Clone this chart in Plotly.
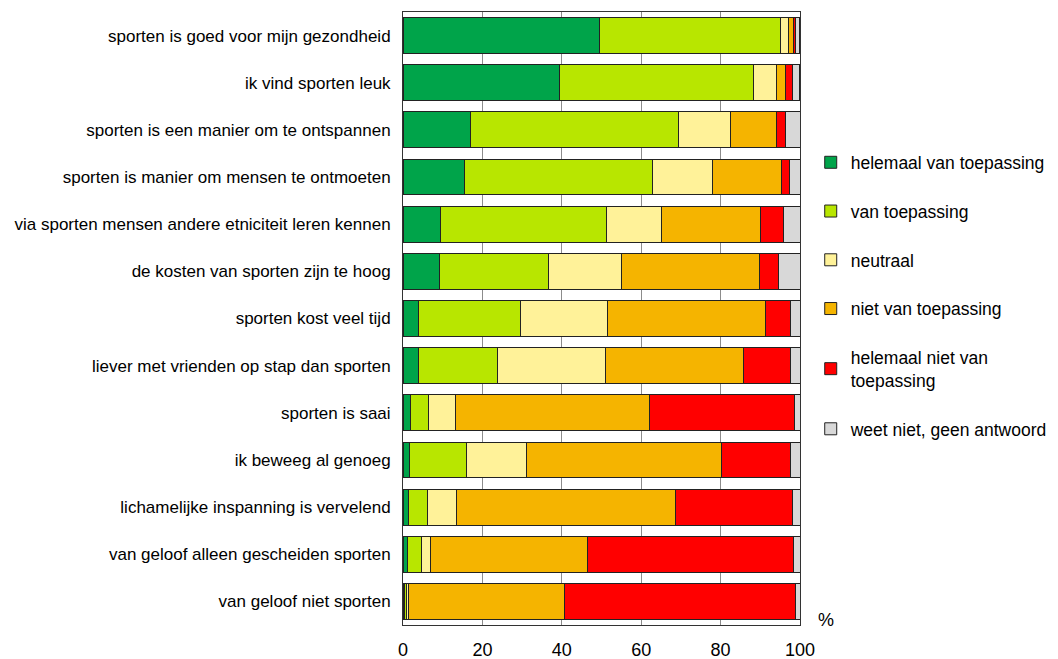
import plotly.graph_objects as go

categories = [
    "sporten is goed voor mijn gezondheid",
    "ik vind sporten leuk",
    "sporten is een manier om te ontspannen",
    "sporten is manier om mensen te ontmoeten",
    "via sporten mensen andere etniciteit leren kennen",
    "de kosten van sporten zijn te hoog",
    "sporten kost veel tijd",
    "liever met vrienden op stap dan sporten",
    "sporten is saai",
    "ik beweeg al genoeg",
    "lichamelijke inspanning is vervelend",
    "van geloof alleen gescheiden sporten",
    "van geloof niet sporten",
]

helemaal_van_toepassing = [49.4, 39.3, 17.1, 15.4, 9.4, 9.2, 3.8, 3.8, 1.9, 1.7, 1.3, 1.1, 0.4]
van_toepassing = [45.6, 48.9, 52.2, 47.4, 41.8, 27.5, 25.8, 20.1, 4.5, 14.3, 4.8, 3.5, 0.4]
neutraal = [2.0, 5.8, 13.3, 15.1, 13.9, 18.3, 21.9, 27.0, 6.9, 15.0, 7.4, 2.4, 0.7]
niet_van_toepassing = [1.3, 2.4, 11.5, 17.4, 24.9, 34.7, 39.9, 34.9, 48.7, 49.2, 55.1, 39.4, 39.3]
helemaal_niet_van_toepassing = [0.6, 1.8, 2.2, 2.1, 5.9, 4.8, 6.2, 11.8, 36.6, 17.4, 29.5, 51.9, 58.0]
weet_niet = [1.0, 1.7, 3.8, 2.7, 4.1, 5.5, 2.4, 2.4, 1.4, 2.4, 1.9, 1.7, 1.2]

x_ticks = [0, 20, 40, 60, 80, 100]

series = [
    ("helemaal van toepassing", helemaal_van_toepassing, "#00A44A"),
    ("van toepassing", van_toepassing, "#B8E600"),
    ("neutraal", neutraal, "#FFF299"),
    ("niet van toepassing", niet_van_toepassing, "#F5B400"),
    ("helemaal niet van<br>toepassing", helemaal_niet_van_toepassing, "#FF0000"),
    ("weet niet, geen antwoord", weet_niet, "#D8D8D8"),
]

fig = go.Figure()
for i, (name, vals, col) in enumerate(series):
    fig.add_trace(go.Bar(
        y=categories, x=vals, name=name, orientation="h",
        marker=dict(color=col, line=dict(color="#222222", width=1)),
        legendgroup=str(i),
    ))

FONT = "Liberation Sans, Arial, sans-serif"
fig.update_layout(
    barmode="stack",
    bargap=0.24,
    width=1050, height=651,
    margin=dict(l=395, r=258, t=4, b=34, autoexpand=False),
    paper_bgcolor="white",
    plot_bgcolor="white",
    font=dict(family=FONT, size=17, color="#000000"),
    showlegend=True,
    legend=dict(
        x=1.027, xanchor="left", y=0.784, yanchor="top",
        traceorder="grouped", tracegroupgap=23,
        font=dict(family=FONT, size=17.5, color="#000000"),
        bgcolor="rgba(0,0,0,0)",
    ),
    xaxis=dict(
        range=[0, 100], tickvals=x_ticks, ticktext=[str(v) for v in x_ticks],
        showgrid=True, gridcolor="#8c8c8c", gridwidth=1,
        showline=True, mirror=True, linecolor="#333333", linewidth=1,
        zeroline=False, ticks="", ticklabelstandoff=8,
        tickfont=dict(family=FONT, size=18, color="#000000"),
        fixedrange=True,
    ),
    yaxis=dict(
        categoryorder="array", categoryarray=categories, autorange="reversed",
        showgrid=False, showline=True, mirror=True, linecolor="#333333", linewidth=1,
        ticks="", ticklabelstandoff=8,
        tickfont=dict(family=FONT, size=17, color="#000000"),
    ),
    annotations=[dict(
        text="%", x=1.065, y=0.008, xref="paper", yref="paper",
        showarrow=False, font=dict(family=FONT, size=18, color="#000000"),
        xanchor="center", yanchor="middle",
    )],
)

fig.write_html("out.html")
